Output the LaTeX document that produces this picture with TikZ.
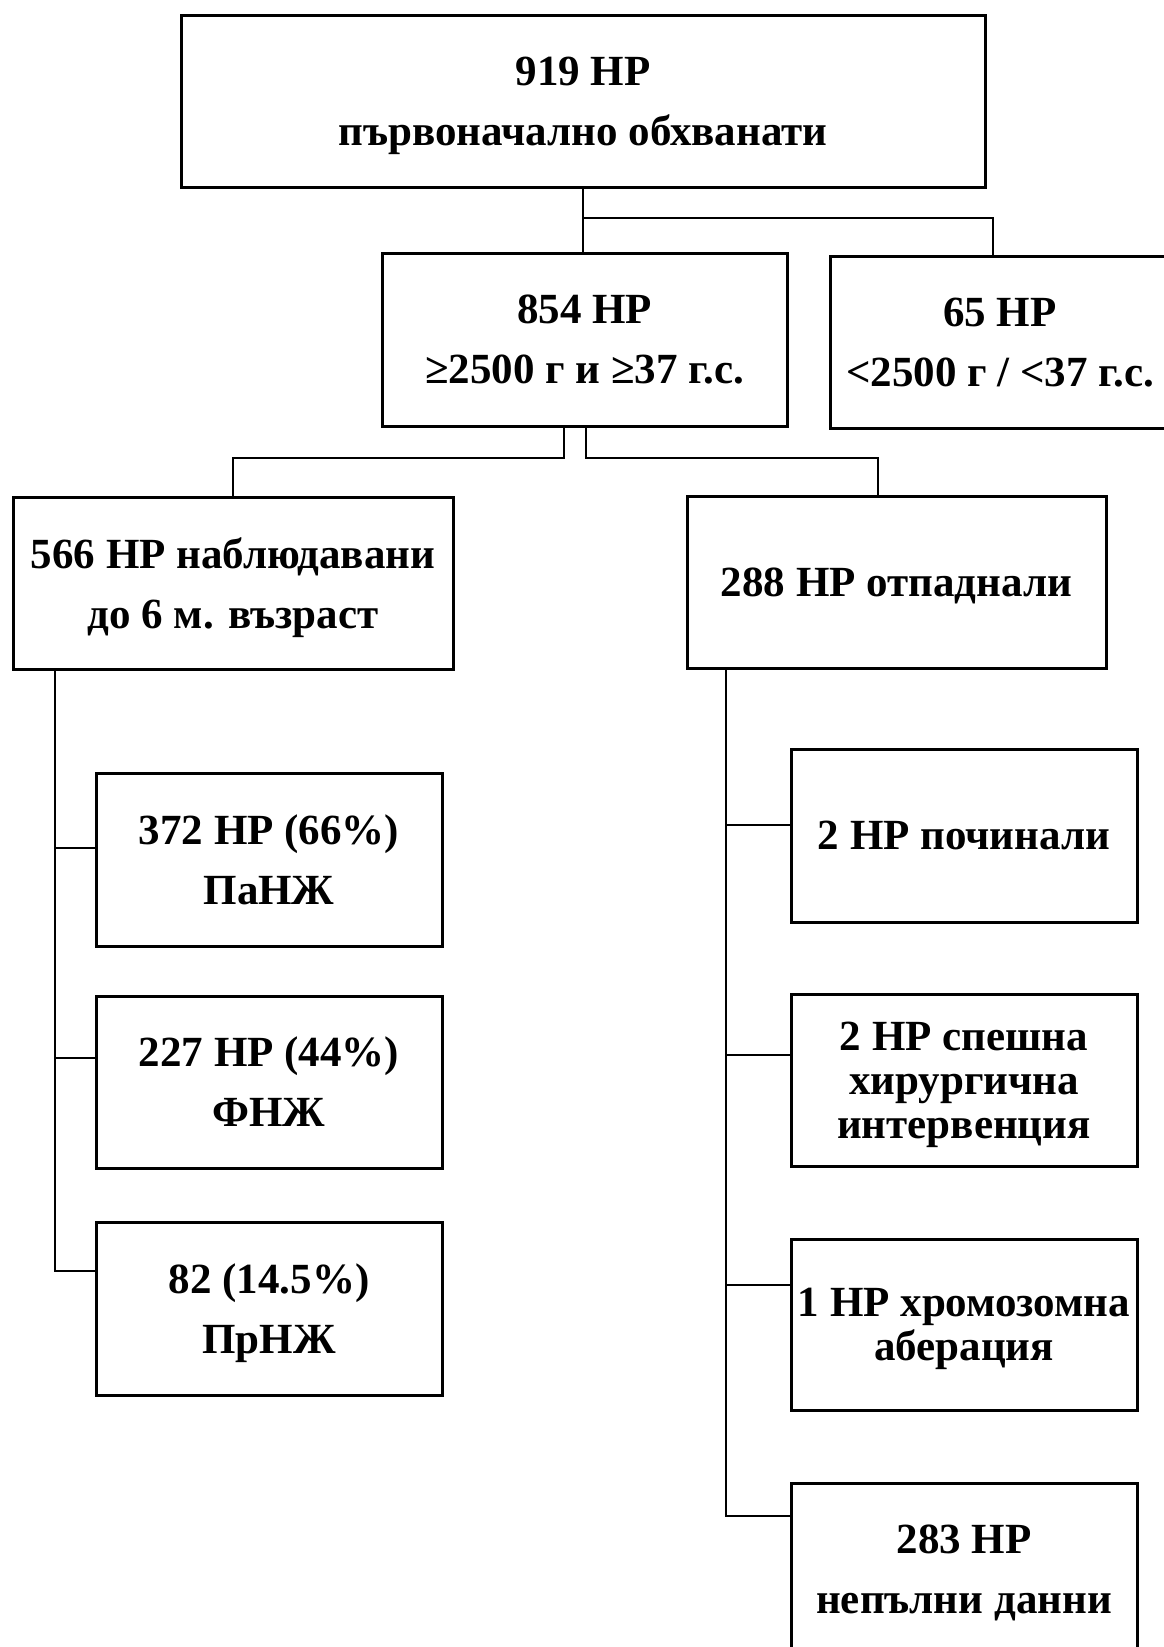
\documentclass[tikz,border=0pt]{standalone}
\usepackage{fontspec}
\setmainfont{Liberation Serif}
\begin{document}
\begin{tikzpicture}[x=1pt,y=-1pt,
  box/.style={draw,line width=3pt,rectangle,inner sep=0pt,align=center,text depth=0pt,
    font=\fontsize{43}{60}\selectfont\bfseries},
  tight/.style={font=\fontsize{43}{44}\selectfont\bfseries},
  conn/.style={line width=2pt}]
\useasboundingbox (0,0) rectangle (1164,1647);
% boxes
\node[box,minimum width=804pt,minimum height=172pt] (top) at (583,101) {919 НР\\първоначално обхванати};
\node[box,minimum width=405pt,minimum height=173pt] (b854) at (584.5,339.5) {854 НР\\≥2500 г и ≥37 г.с.};
\node[box,minimum width=340pt,minimum height=172pt] (b65) at (1000,342) {65 НР\\<2500 г / <37 г.с.};
\node[box,minimum width=440pt,minimum height=172pt] (b566) at (233,583) {566 НР наблюдавани\\до 6 м. възраст};
\node[box,minimum width=419pt,minimum height=172pt] (b288) at (896.5,582) {288 НР отпаднали};
\node[box,minimum width=346pt,minimum height=173pt] (b372) at (269,859.5) {372 НР (66\%)\\ПаНЖ};
\node[box,minimum width=346pt,minimum height=172pt] (b227) at (269,1082) {227 НР (44\%)\\ФНЖ};
\node[box,minimum width=346pt,minimum height=173pt] (b82) at (269,1308.5) {82 (14.5\%)\\ПрНЖ};
\node[box,minimum width=346pt,minimum height=173pt] (b2p) at (964,835.5) {2 НР починали};
\node[box,tight,minimum width=346pt,minimum height=172pt] (b2s) at (964,1080) {2 НР спешна\\хирургична\\интервенция};
\node[box,tight,minimum width=346pt,minimum height=171pt] (b1) at (964,1324.5) {1 НР хромозомна\\аберация};
\node[box,minimum width=346pt,minimum height=172pt] (b283) at (964,1569) {283 НР\\непълни данни};
% connectors
\coordinate (j1) at (583,218);
\draw[conn] (top.south) -- (j1) -- (j1 |- b854.north);
\draw[conn] (j1) -| ([xshift=-7pt]b65.north);
\draw[conn] ([xshift=-20.5pt]b854.south) |- (b566.north |- 0,458) -- (b566.north);
\draw[conn] ([xshift=1.5pt]b854.south) |- ([xshift=-18.5pt]b288.north |- 0,458) -- ([xshift=-18.5pt]b288.north);
% left trunk
\draw[conn] ([xshift=43pt]b566.south west) |- ([yshift=37.5pt]b82.west);
\draw[conn] ([yshift=11.5pt]b372.west) -- ++(-40,0);
\draw[conn] ([yshift=24pt]b227.west) -- ++(-40,0);
% right trunk
\draw[conn] ([xshift=40pt]b288.south west) |- ([yshift=53pt]b283.west);
\draw[conn] ([yshift=10.5pt]b2p.west) -- ++(-64,0);
\draw[conn] ([yshift=25pt]b2s.west) -- ++(-64,0);
\draw[conn] ([yshift=39.5pt]b1.west) -- ++(-64,0);
\end{tikzpicture}
\end{document}
